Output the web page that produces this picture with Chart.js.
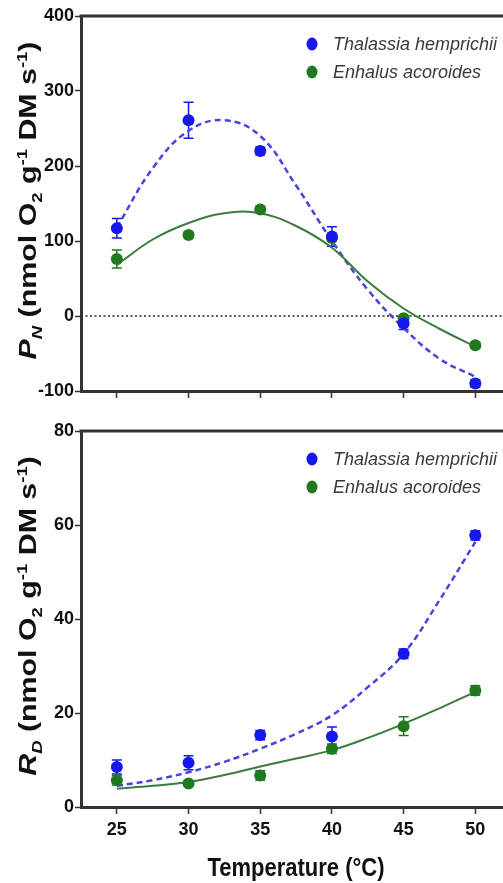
<!DOCTYPE html>
<html>
<head>
<meta charset="utf-8">
<script src="https://cdn.jsdelivr.net/npm/chart.js@4.4.1/dist/chart.umd.min.js"></script>
<style>
html, body { margin: 0; padding: 0; background: #fff; overflow: hidden; }
#wrap { position: relative; width: 503px; height: 883px; overflow: hidden; }
.panel { position: absolute; left: 0; width: 510px; }
#top { top: 0; height: 410px; }
#bottom { top: 410px; height: 473px; }
</style>
</head>
<body>
<div id="wrap">
  <div class="panel" id="top"><canvas id="pn"></canvas></div>
  <div class="panel" id="bottom"><canvas id="rd"></canvas></div>
</div>
<script>
const temps = [25, 30, 35, 40, 45, 50];
const fitTemps = [25, 27.5, 30, 32.5, 35, 37.5, 40, 42.5, 45, 47.5, 50];
const speciesNames = ['Thalassia hemprichii', 'Enhalus acoroides'];

// net photosynthesis (top panel)
const pnThalassia = [117, 261, 220, 106, -10, -90];
const pnThalassiaErr = [13, 24, 5, 13, 8, 5];
const pnEnhalus = [76, 108, 142, 104, -3, -39];
const pnEnhalusErr = [12, 4, 4, 4, 4, 4];
const pnThalassiaFit = [118, 197, 247, 261, 240, 174, 100, 35, -16, -57, -81];
const pnEnhalusFit = [68, 102, 124, 137, 137, 120, 91, 46, 10, -17, -41];
const pnTicks = [-100, 0, 100, 200, 300, 400];

// dark respiration (bottom panel)
const rdThalassia = [8.5, 9.4, 15.3, 15.0, 32.6, 57.8];
const rdThalassiaErr = [1.5, 1.5, 1, 2, 1, 1];
const rdEnhalus = [5.7, 5.0, 6.7, 12.4, 17.2, 24.8];
const rdEnhalusErr = [1, 0.5, 1, 1, 2, 1];
const rdThalassiaFit = [4.5, 5.7, 7.4, 9.6, 12.4, 15.6, 19.5, 25.5, 32.6, 44, 56.4];
const rdEnhalusFit = [3.9, 4.5, 5.3, 6.8, 8.6, 10.3, 12.1, 14.7, 17.7, 21, 24.5];
const rdTicks = [0, 20, 40, 60, 80];

const blue = '#1616ee';
const green = '#1f7a1f';
const blueFit = '#4646dc';
const greenFit = '#3b7b3b';
const axisColor = '#333';

Chart.defaults.font.family = "'Liberation Sans', Arial, sans-serif";

function toXY(xs, ys) {
    return xs.map((x, i) => ({ x: x, y: ys[i] }));
}

function segFont(s, size) {
    const sz = (s.sub || s.sup) ? Math.round(size * 0.62) : size;
    return (s.italic ? 'italic ' : '') + 'bold ' + sz + "px 'Liberation Sans', Arial, sans-serif";
}

// rotated axis title with sub/superscripts
function drawRichVertical(ctx, segs, cx, cy, size, stretch) {
    ctx.save();
    ctx.translate(cx, cy);
    ctx.scale(1, stretch);
    ctx.rotate(-Math.PI / 2);
    let total = 0;
    const widths = segs.map(s => {
        ctx.font = segFont(s, size);
        const w = ctx.measureText(s.t).width;
        total += w;
        return w;
    });
    let x = -total / 2;
    ctx.fillStyle = '#111';
    ctx.textBaseline = 'alphabetic';
    ctx.textAlign = 'left';
    segs.forEach((s, i) => {
        ctx.font = segFont(s, size);
        let dy = size * 0.36;
        if (s.sub) dy += size * 0.25;
        if (s.sup) dy -= size * 0.42;
        ctx.fillText(s.t, x, dy);
        x += widths[i];
    });
    ctx.restore();
}

const panelPlugin = {
    id: 'panel',
    beforeDatasetsDraw(chart, args, opts) {
        const ctx = chart.ctx;
        const area = chart.chartArea;
        const xs = chart.scales.x, ys = chart.scales.y;
        ctx.save();
        if (opts.zeroLine) {
            const y0 = ys.getPixelForValue(0);
            ctx.strokeStyle = '#222';
            ctx.lineWidth = 1.5;
            ctx.setLineDash([2, 2.5]);
            ctx.beginPath();
            ctx.moveTo(area.left, y0);
            ctx.lineTo(area.right, y0);
            ctx.stroke();
            ctx.setLineDash([]);
        }
        // error bars
        chart.data.datasets.forEach(ds => {
            if (!ds.errors) return;
            ctx.strokeStyle = ds.backgroundColor;
            ctx.lineWidth = 1.5;
            ds.data.forEach((p, i) => {
                const e = ds.errors[i];
                const px = xs.getPixelForValue(p.x);
                const yt = ys.getPixelForValue(p.y + e);
                const yb = ys.getPixelForValue(p.y - e);
                ctx.beginPath();
                ctx.moveTo(px, yt); ctx.lineTo(px, yb);
                ctx.moveTo(px - 5, yt); ctx.lineTo(px + 5, yt);
                ctx.moveTo(px - 5, yb); ctx.lineTo(px + 5, yb);
                ctx.stroke();
            });
        });
        ctx.restore();
    },
    afterDraw(chart, args, opts) {
        const ctx = chart.ctx;
        const area = chart.chartArea;
        ctx.save();
        // top frame line
        ctx.strokeStyle = axisColor;
        ctx.lineWidth = 3;
        ctx.beginPath();
        ctx.moveTo(area.left - 1.5, area.top);
        ctx.lineTo(area.right, area.top);
        ctx.stroke();

        // legend
        const items = chart.data.datasets.filter(ds => ds.errors);
        items.forEach((ds, i) => {
            const y = opts.legendY + i * 28;
            ctx.fillStyle = ds.backgroundColor;
            ctx.beginPath();
            ctx.ellipse(312, y, 5.5, 6.5, 0, 0, Math.PI * 2);
            ctx.fill();
            ctx.fillStyle = '#3a3a3a';
            ctx.font = "italic 18px 'Liberation Sans', Arial, sans-serif";
            ctx.textBaseline = 'middle';
            ctx.textAlign = 'left';
            ctx.fillText(ds.label, 333, y + 1);
        });

        // y title
        drawRichVertical(ctx, opts.yTitle, 28, (area.top + area.bottom) / 2 - 3, 23, 1.32);

        // x title
        if (opts.xTitle) {
            ctx.save();
            ctx.translate(296, chart.height - 14);
            ctx.scale(1, 1.2);
            ctx.fillStyle = '#111';
            ctx.font = "bold 22px 'Liberation Sans', Arial, sans-serif";
            ctx.textAlign = 'center';
            ctx.textBaseline = 'middle';
            ctx.fillText(opts.xTitle, 0, 0);
            ctx.restore();
        }
        ctx.restore();
    }
};

function makePanel(canvasId, cfg) {
    return new Chart(document.getElementById(canvasId), {
        type: 'scatter',
        data: {
            datasets: [
                {
                    label: speciesNames[0], data: toXY(temps, cfg.a), errors: cfg.aErr,
                    backgroundColor: blue, borderColor: blue, pointRadius: 6, pointHoverRadius: 6,
                    borderWidth: 0, order: 0
                },
                {
                    label: speciesNames[1], data: toXY(temps, cfg.b), errors: cfg.bErr,
                    backgroundColor: green, borderColor: green, pointRadius: 6, pointHoverRadius: 6,
                    borderWidth: 0, order: 0
                },
                {
                    label: 'fit a', data: toXY(fitTemps, cfg.aFit), showLine: true, pointRadius: 0,
                    borderColor: blueFit, borderWidth: 2.5, borderDash: [6, 4],
                    tension: 0.4, order: 2
                },
                {
                    label: 'fit b', data: toXY(fitTemps, cfg.bFit), showLine: true, pointRadius: 0,
                    borderColor: greenFit, borderWidth: 2, tension: 0.4, order: 1
                }
            ]
        },
        options: {
            responsive: true,
            maintainAspectRatio: false,
            animation: false,
            layout: { padding: { top: cfg.padTop, left: 0, right: 0, bottom: 0 } },
            scales: {
                x: {
                    type: 'linear', min: 22.5, max: 52,
                    afterBuildTicks: s => { s.ticks = temps.map(v => ({ value: v })); },
                    afterFit: s => { s.height = cfg.xHeight; },
                    grid: { drawOnChartArea: false, tickLength: 7, tickWidth: 1.5, tickColor: axisColor },
                    border: { color: axisColor, width: 3 },
                    ticks: {
                        display: cfg.xLabels, padding: 5, color: '#111',
                        font: { size: 18, weight: 'bold' }
                    }
                },
                y: {
                    min: cfg.ticks[0], max: cfg.ticks[cfg.ticks.length - 1],
                    afterBuildTicks: s => { s.ticks = cfg.ticks.map(v => ({ value: v })); },
                    afterFit: s => { s.width = 81; },
                    grid: { drawOnChartArea: false, tickLength: 6, tickWidth: 1.5, tickColor: axisColor },
                    border: { color: axisColor, width: 3 },
                    ticks: { padding: 1, color: '#111', font: { size: 18, weight: 'bold' } }
                }
            },
            plugins: {
                legend: { display: false },
                tooltip: { enabled: false },
                panel: {
                    zeroLine: cfg.zeroLine, legendY: cfg.legendY,
                    yTitle: cfg.yTitle, xTitle: cfg.xTitle
                }
            }
        },
        plugins: [panelPlugin]
    });
}

makePanel('pn', {
    a: pnThalassia, aErr: pnThalassiaErr, b: pnEnhalus, bErr: pnEnhalusErr,
    aFit: pnThalassiaFit, bFit: pnEnhalusFit, ticks: pnTicks,
    padTop: 16, xHeight: 19, xLabels: false, zeroLine: true, legendY: 44,
    yTitle: [
        { t: 'P', italic: true }, { t: 'N', italic: true, sub: true },
        { t: ' (nmol O' }, { t: '2', sub: true }, { t: ' g' }, { t: '-1', sup: true },
        { t: ' DM s' }, { t: '-1', sup: true }, { t: ')' }
    ]
});

makePanel('rd', {
    a: rdThalassia, aErr: rdThalassiaErr, b: rdEnhalus, bErr: rdEnhalusErr,
    aFit: rdThalassiaFit, bFit: rdEnhalusFit, ticks: rdTicks,
    padTop: 21, xHeight: 76, xLabels: true, zeroLine: false, legendY: 49,
    xTitle: 'Temperature (°C)',
    yTitle: [
        { t: 'R', italic: true }, { t: 'D', italic: true, sub: true },
        { t: ' (nmol O' }, { t: '2', sub: true }, { t: ' g' }, { t: '-1', sup: true },
        { t: ' DM s' }, { t: '-1', sup: true }, { t: ')' }
    ]
});
</script>
</body>
</html>
